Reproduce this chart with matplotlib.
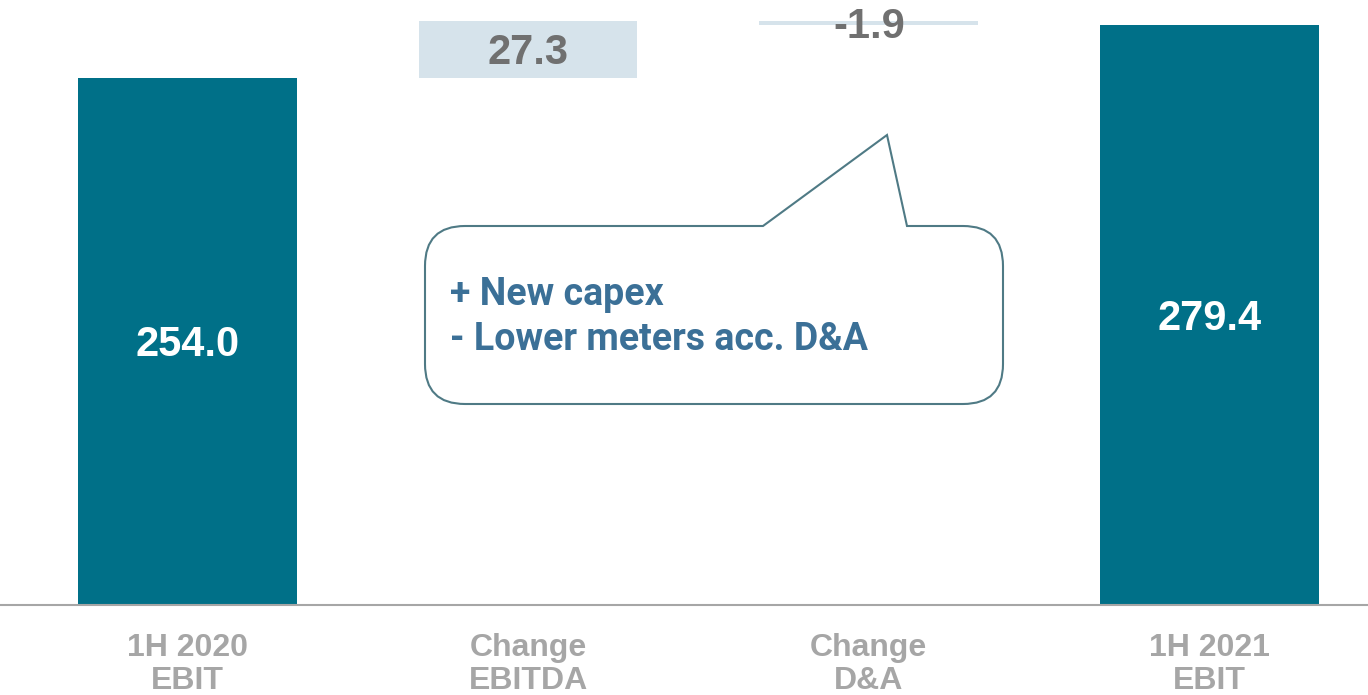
import matplotlib.pyplot as plt
from matplotlib.path import Path
from matplotlib.patches import PathPatch

# waterfall data
labels = ["1H 2020\nEBIT", "Change\nEBITDA", "Change\nD&A", "1H 2021\nEBIT"]
values = [254.0, 27.3, -1.9, 279.4]
kinds = ["total", "delta", "delta", "total"]
value_text = ["254.0", "27.3", "-1.9", "279.4"]
callout_lines = ["+ New capex", "- Lower meters acc. D&A"]

TEAL = "#007088"
LIGHT = "#D6E3EB"
GREY = "#A6A6A6"
DARK_GREY = "#707070"
NOTE_BLUE = "#3B7097"
NOTE_EDGE = "#4F7A85"

W, H = 1368, 695
fig = plt.figure(figsize=(W / 100, H / 100), dpi=100)
ax = fig.add_axes([0, (H - 605) / H, 1, 605 / H])

# work out bottoms / heights for the waterfall
bottoms, heights, colors = [], [], []
running = 0.0
for v, k in zip(values, kinds):
    if k == "total":
        bottoms.append(0)
        heights.append(v)
        colors.append(TEAL)
        running = v
    else:
        bottoms.append(min(running, running + v))
        heights.append(abs(v))
        colors.append(LIGHT)
        running += v

x = range(len(values))
ax.bar(x, heights, bottom=bottoms, width=0.642, color=colors, zorder=2)

# labels sit with their digits centred on the bar middle
for i in x:
    yc = bottoms[i] + heights[i] / 2
    c = "white" if kinds[i] == "total" else DARK_GREY
    ax.annotate(value_text[i], (i, yc), xytext=(0, -10.5), textcoords="offset points",
                ha="center", va="baseline", fontsize=30, fontweight="bold",
                color=c, family="Liberation Sans", zorder=6)

ax.set_xlim(-0.55, 3.465)
ax.set_ylim(0, 291.6)
ax.set_yticks([])
ax.set_xticks(list(x))
ax.set_xticklabels(labels, fontsize=23, fontweight="bold", color=GREY,
                   family="Liberation Sans", linespacing=1.15)
ax.tick_params(axis="x", length=0, pad=20)
for s in ["top", "left", "right"]:
    ax.spines[s].set_visible(False)
ax.spines["bottom"].set_color(GREY)
ax.spines["bottom"].set_linewidth(1.5)

# speech-bubble callout (figure pixel coords)
L, R, T, B, r = 425, 1003, 226, 404, 40
tip = (887, 135)
pts = [
    ((763, T), Path.MOVETO),
    (tip, Path.LINETO),
    ((907, T), Path.LINETO),
    ((R - r, T), Path.LINETO),
    ((R, T), Path.CURVE3), ((R, T + r), Path.CURVE3),
    ((R, B - r), Path.LINETO),
    ((R, B), Path.CURVE3), ((R - r, B), Path.CURVE3),
    ((L + r, B), Path.LINETO),
    ((L, B), Path.CURVE3), ((L, B - r), Path.CURVE3),
    ((L, T + r), Path.LINETO),
    ((L, T), Path.CURVE3), ((L + r, T), Path.CURVE3),
    ((763, T), Path.CLOSEPOLY),
]
verts = [(px / W, 1 - py / H) for (px, py), _ in pts]
codes = [c for _, c in pts]
bubble = PathPatch(Path(verts, codes), transform=fig.transFigure,
                   facecolor="white", edgecolor=NOTE_EDGE, linewidth=1.5, zorder=5)
fig.patches.append(bubble)

for j, line in enumerate(callout_lines):
    fig.text(450 / W, 1 - (305 + 45 * j) / H, line, ha="left", va="baseline",
             fontsize=27, fontweight="bold", color=NOTE_BLUE, family="Roboto",
             zorder=6)

fig.savefig("out.png", dpi=100)
